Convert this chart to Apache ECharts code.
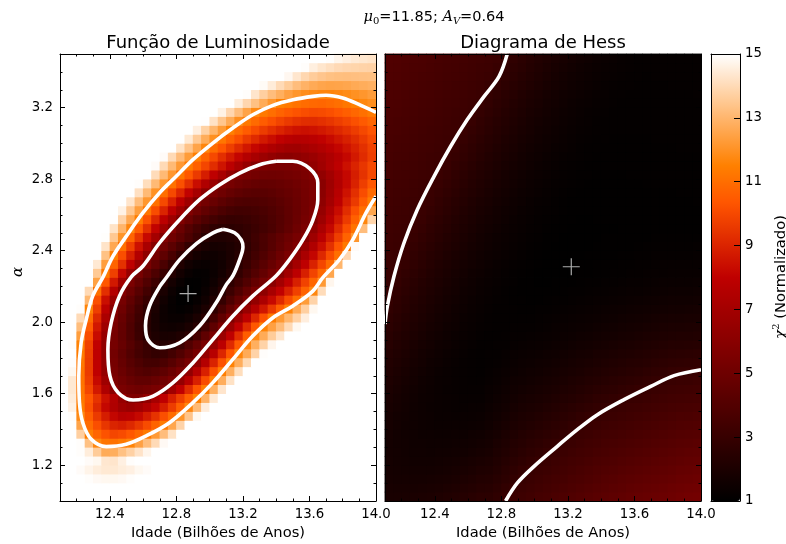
<!DOCTYPE html>
<html><head><meta charset="utf-8">
<script src="https://cdn.jsdelivr.net/npm/echarts@6/dist/echarts.min.js"></script>
<style>html,body{margin:0;padding:0;background:#fff}#c{width:786px;height:544px}</style>
</head><body><div id="c"></div>
<script>
// ---------- data ----------
// grid cell centres shared by both panels (age, alpha)
const gridX = [12.125,12.175,12.225,12.275,12.325,12.375,12.425,12.475,12.525,12.575,12.625,12.675,12.725,12.775,12.825,12.875,12.925,12.975,13.025,13.075,13.125,13.175,13.225,13.275,13.325,13.375,13.425,13.475,13.525,13.575,13.625,13.675,13.725,13.775,13.825,13.875,13.925,13.975];
const gridY = [1.025,1.075,1.125,1.175,1.225,1.275,1.325,1.375,1.425,1.475,1.525,1.575,1.625,1.675,1.725,1.775,1.825,1.875,1.925,1.975,2.025,2.075,2.125,2.175,2.225,2.275,2.325,2.375,2.425,2.475,2.525,2.575,2.625,2.675,2.725,2.775,2.825,2.875,2.925,2.975,3.025,3.075,3.125,3.175,3.225,3.275,3.325,3.375,3.425,3.475];

// Função de Luminosidade: chi2 (normalised) per cell, rows from alpha=1.025 (bottom) to 3.475 (top); 15 = saturated (white)
const lfGrid = [
[15,15,15,15,15,15,15,15,15,15,15,15,15,15,15,15,15,15,15,15,15,15,15,15,15,15,15,15,15,15,15,15,15,15,15,15,15,15],
[15,15,15,15,15,15,15,15,15,15,15,15,15,15,15,15,15,15,15,15,15,15,15,15,15,15,15,15,15,15,15,15,15,15,15,15,15,15],
[15,15,15,14.95,14.85,14.8,14.8,14.85,14.95,15,15,15,15,15,15,15,15,15,15,15,15,15,15,15,15,15,15,15,15,15,15,15,15,15,15,15,15,15],
[15,15,14.9,14.7,14.5,14.4,14.4,14.5,14.6,14.8,14.9,15,15,15,15,15,15,15,15,15,15,15,15,15,15,15,15,15,15,15,15,15,15,15,15,15,15,15],
[15,15,15,14.9,14.8,14.35,14.3,14.6,14.95,15,15,15,15,15,15,15,15,15,15,15,15,15,15,15,15,15,15,15,15,15,15,15,15,15,15,15,15,15],
[15,15,14.95,14.5,13.6,12.7,12.77,13.3,13.75,14.25,14.73,15,15,15,15,15,15,15,15,15,15,15,15,15,15,15,15,15,15,15,15,15,15,15,15,15,15,15],
[15,15,14.95,13.3,11.7,11.2,11.13,11.33,11.6,12.4,13.2,14.0,14.85,15,15,15,15,15,15,15,15,15,15,15,15,15,15,15,15,15,15,15,15,15,15,15,15,15],
[15,15,13.7,11.45,10.79,10.25,9.93,10.07,10.4,10.82,11.34,12.23,13.2,14.2,15,15,15,15,15,15,15,15,15,15,15,15,15,15,15,15,15,15,15,15,15,15,15,15],
[15,15,12.5,10.94,10.15,9.48,9.0,8.84,9.11,9.54,10.07,10.7,11.38,12.55,13.8,15,15,15,15,15,15,15,15,15,15,15,15,15,15,15,15,15,15,15,15,15,15,15],
[15,14.95,11.8,10.55,9.6,8.8,8.16,7.71,7.85,8.23,8.77,9.42,10.17,10.97,12.05,13.4,14.8,15,15,15,15,15,15,15,15,15,15,15,15,15,15,15,15,15,15,15,15,15],
[15,14.65,11.45,10.22,9.14,8.2,7.43,6.84,6.6,6.92,7.42,8.07,8.82,9.68,10.62,11.7,13.1,14.5,15,15,15,15,15,15,15,15,15,15,15,15,15,15,15,15,15,15,15,15],
[15,14.5,11.33,10.37,9.41,8.45,7.5,6.5,5.65,5.65,6.22,7.1,7.98,8.86,9.73,10.6,11.5,12.9,14.4,15,15,15,15,15,15,15,15,15,15,15,15,15,15,15,15,15,15,15],
[15,14.4,11.24,9.93,8.66,7.38,6.1,5.46,5.18,5.04,5.18,5.42,5.7,6.9,8.0,9.2,10.3,11.4,12.8,14.3,15,15,15,15,15,15,15,15,15,15,15,15,15,15,15,15,15,15],
[15,14.4,11.15,9.7,8.25,6.8,5.59,5.15,4.8,4.55,4.55,4.78,5.12,5.53,6.45,7.67,8.9,10.1,11.35,12.75,14.2,15,15,15,15,15,15,15,15,15,15,15,15,15,15,15,15,15],
[15,14.8,11.18,9.6,8.0,6.43,5.4,4.9,4.48,4.14,3.95,4.12,4.46,4.91,5.44,6.4,7.65,8.9,10.2,11.45,12.8,14.1,15,15,15,15,15,15,15,15,15,15,15,15,15,15,15,15],
[15,14.95,11.27,9.62,7.96,6.33,5.3,4.71,4.2,3.79,3.49,3.45,3.75,4.18,4.71,5.33,6.3,7.61,8.96,10.24,11.55,12.75,13.96,15,15,15,15,15,15,15,15,15,15,15,15,15,15,15],
[15,15,11.4,9.67,7.96,6.22,5.21,4.56,3.98,3.48,3.1,2.86,3.04,3.44,3.97,4.62,5.33,6.4,7.7,9.05,10.35,11.64,12.7,13.8,14.95,15,15,15,15,15,15,15,15,15,15,15,15,15],
[15,14.95,11.55,9.79,8.02,6.28,5.32,4.75,4.17,3.6,3.03,2.49,2.34,2.5,3.2,3.95,4.69,5.44,6.54,7.85,9.15,10.46,11.7,12.8,13.8,14.74,15,15,15,15,15,15,15,15,15,15,15,15],
[15,15,12.34,10.1,8.3,6.5,5.32,4.61,3.91,3.2,2.5,2.09,1.9,1.95,2.16,2.52,3.52,4.48,5.44,6.65,7.96,9.25,10.56,11.76,12.7,13.6,14.3,15,15,15,15,15,15,15,15,15,15,15],
[15,15,13.2,10.5,8.66,6.8,5.4,4.64,3.87,3.1,2.38,1.9,1.63,1.56,1.67,1.95,2.41,3.36,4.42,5.48,6.69,8.0,9.2,10.4,11.57,12.4,13.15,14.0,14.8,15,15,15,15,15,15,15,15,15],
[15,15,14.0,10.98,9.1,7.26,5.58,4.8,4.03,3.27,2.5,1.89,1.49,1.32,1.34,1.54,1.93,2.5,3.52,4.55,5.58,6.74,7.9,9.06,10.22,11.38,12.2,13.0,13.75,14.55,15,15,15,15,15,15,15,15],
[15,15,14.95,11.6,9.7,7.85,6.0,5.06,4.26,3.46,2.66,1.98,1.49,1.21,1.12,1.23,1.52,2.0,2.72,3.65,4.6,5.54,6.57,7.56,8.6,9.6,10.57,11.55,12.66,13.7,14.8,15,15,15,15,15,15,15],
[15,15,15,13.05,10.2,8.4,6.63,5.32,4.55,3.78,3.01,2.25,1.64,1.24,1.05,1.04,1.23,1.6,2.16,2.95,3.81,4.64,5.51,6.4,7.32,8.25,9.18,10.1,11.04,12.27,13.8,15,15,15,15,15,15,15],
[15,15,15,14.0,11.09,9.3,7.56,5.76,4.96,4.2,3.43,2.66,1.96,1.44,1.12,1.0,1.08,1.35,1.8,2.44,3.17,3.9,4.68,5.41,6.23,7.15,8.02,8.9,9.8,10.7,11.7,14.05,15,15,15,15,15,15],
[15,15,15,15,12.45,10.4,8.66,6.9,5.48,4.71,3.94,3.17,2.43,1.78,1.33,1.09,1.06,1.21,1.53,2.02,2.66,3.33,3.97,4.64,5.28,6.05,6.98,7.96,8.89,9.82,10.8,12.2,14.75,15,15,15,15,15],
[15,15,15,15,13.55,11.33,9.76,8.2,6.57,5.35,4.58,3.81,3.04,2.28,1.69,1.31,1.15,1.19,1.39,1.73,2.23,2.84,3.43,4.03,4.64,5.25,5.93,6.9,7.9,8.87,9.87,10.86,12.55,15,15,15,15,15],
[15,15,15,15,14.4,12.34,10.7,9.35,7.96,6.57,5.4,4.57,3.74,2.92,2.17,1.67,1.39,1.32,1.42,1.66,2.04,2.56,3.12,3.67,4.24,4.78,5.35,6.05,7.03,7.96,8.95,9.93,10.9,13.0,15,15,15,15],
[15,15,15,15,15,13.32,11.45,10.15,8.85,7.55,6.24,5.25,4.45,3.66,2.86,2.17,1.76,1.55,1.56,1.7,1.98,2.38,2.88,3.4,3.91,4.42,4.96,5.47,6.22,7.2,8.13,9.1,10.1,11.04,13.9,15,15,15],
[15,15,15,15,15,14.26,12.62,11.09,9.76,8.48,7.21,5.93,5.1,4.36,3.65,2.91,2.27,1.93,1.81,1.87,2.04,2.32,2.75,3.24,3.71,4.16,4.64,5.12,5.6,6.45,7.45,8.4,9.35,10.35,11.3,14.9,15,15],
[15,15,15,15,15,14.96,13.5,12.05,10.74,9.47,8.25,7.03,5.76,5.1,4.45,3.81,3.17,2.5,2.2,2.16,2.27,2.5,2.91,3.3,3.72,4.13,4.55,4.93,5.35,5.82,6.8,7.79,8.72,9.7,10.7,12.1,15,15],
[15,15,15,15,15,15,14.23,12.97,11.68,10.46,9.3,8.08,6.86,5.7,4.88,4.15,3.55,3.08,2.73,2.55,2.57,2.7,2.89,3.14,3.43,3.74,4.12,4.53,5.0,5.48,6.28,7.27,8.2,9.18,10.17,11.15,13.2,15],
[15,15,15,15,15,15,14.98,13.81,12.62,11.45,10.24,9.06,7.9,6.74,5.68,4.96,4.33,3.84,3.43,3.12,2.96,3.0,3.12,3.29,3.51,3.81,4.11,4.47,4.85,5.29,5.76,6.74,7.73,8.66,9.64,10.63,11.67,13.85],
[15,15,15,15,15,15,15,14.65,13.5,12.34,11.2,10.1,9.0,7.9,6.8,5.7,5.09,4.56,4.12,3.77,3.5,3.37,3.42,3.53,3.7,3.93,4.19,4.49,4.84,5.21,5.63,6.45,7.38,8.31,9.24,10.17,11.04,12.55],
[15,15,15,15,15,15,15,15,14.3,13.2,12.15,11.09,10.0,8.95,7.9,6.8,5.76,5.22,4.78,4.4,4.11,3.89,3.79,3.83,3.94,4.11,4.32,4.57,4.86,5.18,5.53,6.2,7.0,7.9,8.8,9.6,10.5,11.4],
[15,15,15,15,15,15,15,15,15,14.16,13.1,12.0,11.0,10.0,9.04,8.06,7.1,6.1,5.46,5.06,4.73,4.47,4.29,4.2,4.24,4.35,4.52,4.71,4.95,5.22,5.54,6.08,6.88,7.7,8.5,9.3,10.1,10.9],
[15,15,15,15,15,15,15,15,15,14.95,14.1,13.1,12.1,11.1,10.2,9.3,8.37,7.44,6.57,5.68,5.34,5.06,4.84,4.68,4.62,4.66,4.77,4.91,5.1,5.31,5.56,6.05,6.8,7.52,8.22,8.95,9.7,10.4],
[15,15,15,15,15,15,15,15,15,15,15,14.05,13.1,12.13,11.2,10.4,9.6,8.8,7.96,7.15,6.34,5.63,5.4,5.22,5.08,5.03,5.08,5.18,5.32,5.5,5.75,6.35,6.95,7.56,8.2,8.8,9.4,10.0],
[15,15,15,15,15,15,15,15,15,15,15,14.9,14.0,13.1,12.2,11.33,10.63,9.93,9.24,8.55,7.86,7.17,6.48,5.8,5.59,5.49,5.45,5.5,5.6,5.83,6.34,6.88,7.4,7.93,8.45,8.97,9.5,10.0],
[15,15,15,15,15,15,15,15,15,15,15,15,14.9,14.0,13.15,12.27,11.45,10.68,10.0,9.3,8.7,8.14,7.6,7.15,6.73,6.4,6.13,6.03,6.18,6.38,6.66,7.0,7.37,7.77,8.2,8.7,9.2,9.7],
[15,15,15,15,15,15,15,15,15,15,15,15,15,15,14.23,13.4,12.5,11.67,10.95,10.34,9.73,9.16,8.65,8.18,7.76,7.38,7.1,6.87,6.85,7.0,7.22,7.49,7.8,8.13,8.5,8.9,9.33,9.8],
[15,15,15,15,15,15,15,15,15,15,15,15,15,15,15,14.4,13.56,12.74,11.95,11.23,10.65,10.14,9.6,9.17,8.7,8.35,8.04,7.77,7.62,7.68,7.83,8.04,8.28,8.57,8.88,9.22,9.6,10.0],
[15,15,15,15,15,15,15,15,15,15,15,15,15,15,15,15,14.57,13.77,13.0,12.24,11.5,10.97,10.5,10.07,9.65,9.3,8.97,8.7,8.5,8.41,8.51,8.66,8.87,9.1,9.37,9.66,9.98,10.31],
[15,15,15,15,15,15,15,15,15,15,15,15,15,15,15,15,15,14.98,14.22,13.45,12.7,11.92,11.3,10.9,10.52,10.19,9.87,9.61,9.39,9.24,9.22,9.34,9.5,9.7,9.93,10.19,10.46,10.77],
[15,15,15,15,15,15,15,15,15,15,15,15,15,15,15,15,15,15,15,14.65,13.9,13.2,12.48,11.75,11.3,11.0,10.72,10.48,10.27,10.11,10.0,10.05,10.18,10.36,10.57,10.81,11.07,11.37],
[15,15,15,15,15,15,15,15,15,15,15,15,15,15,15,15,15,15,15,15,15,14.5,13.9,13.3,12.7,12.1,11.5,11.3,11.12,10.97,10.86,10.8,10.89,11.05,11.26,11.5,11.69,11.88],
[15,15,15,15,15,15,15,15,15,15,15,15,15,15,15,15,15,15,15,15,15,15,14.95,14.3,13.7,13.2,12.8,12.4,12.1,11.9,11.75,11.65,11.62,11.7,11.82,11.97,12.12,12.3],
[15,15,15,15,15,15,15,15,15,15,15,15,15,15,15,15,15,15,15,15,15,15,15,15,14.88,14.48,14.0,13.6,13.2,12.9,12.68,12.54,12.47,12.5,12.56,12.66,12.75,12.83],
[15,15,15,15,15,15,15,15,15,15,15,15,15,15,15,15,15,15,15,15,15,15,15,15,15,15,15,14.79,14.33,13.92,13.62,13.43,13.3,13.24,13.23,13.25,13.28,13.3],
[15,15,15,15,15,15,15,15,15,15,15,15,15,15,15,15,15,15,15,15,15,15,15,15,15,15,15,15,15,14.94,14.56,14.32,14.13,13.98,13.9,13.85,13.8,13.78],
[15,15,15,15,15,15,15,15,15,15,15,15,15,15,15,15,15,15,15,15,15,15,15,15,15,15,15,15,15,15,15,15,14.95,14.73,14.57,14.43,14.34,14.26]
];

// Diagrama de Hess: chi2 (normalised) per cell, rows from alpha=1.025 (bottom) to 3.475 (top)
const hessGrid = [
[1.92,1.91,1.91,1.93,1.97,2.02,2.08,2.16,2.25,2.35,2.45,2.55,2.58,2.71,2.92,3.10,3.24,3.35,3.47,3.57,3.68,3.79,3.91,4.02,4.12,4.23,4.33,4.42,4.51,4.60,4.68,4.74,4.83,4.91,4.99,5.10,5.15,5.21],
[1.86,1.84,1.83,1.84,1.86,1.90,1.95,2.02,2.10,2.19,2.29,2.39,2.43,2.56,2.77,2.99,3.12,3.24,3.35,3.45,3.55,3.66,3.78,3.88,3.99,4.09,4.19,4.28,4.37,4.45,4.53,4.60,4.68,4.76,4.85,4.95,5.00,5.05],
[1.81,1.78,1.76,1.76,1.77,1.80,1.84,1.89,1.96,2.04,2.13,2.23,2.28,2.42,2.62,2.83,3.01,3.12,3.22,3.33,3.43,3.53,3.65,3.75,3.86,3.96,4.05,4.14,4.23,4.31,4.39,4.45,4.54,4.62,4.70,4.79,4.84,4.89],
[1.77,1.73,1.71,1.69,1.69,1.71,1.74,1.78,1.84,1.91,1.99,2.08,2.14,2.29,2.48,2.68,2.85,3.00,3.10,3.20,3.31,3.41,3.52,3.62,3.72,3.83,3.92,4.00,4.09,4.17,4.24,4.31,4.39,4.47,4.55,4.64,4.69,4.74],
[1.75,1.70,1.66,1.63,1.62,1.63,1.65,1.68,1.72,1.79,1.86,1.94,2.01,2.16,2.34,2.54,2.69,2.83,2.97,3.08,3.18,3.28,3.39,3.49,3.59,3.69,3.78,3.86,3.95,4.03,4.10,4.17,4.25,4.32,4.40,4.48,4.53,4.58],
[1.74,1.68,1.63,1.59,1.57,1.56,1.57,1.59,1.62,1.67,1.74,1.81,1.89,2.04,2.21,2.40,2.54,2.67,2.80,2.94,3.06,3.15,3.26,3.36,3.46,3.56,3.64,3.72,3.81,3.88,3.96,4.02,4.10,4.18,4.25,4.33,4.38,4.42],
[1.74,1.67,1.61,1.56,1.53,1.51,1.50,1.51,1.54,1.57,1.63,1.69,1.78,1.93,2.09,2.27,2.40,2.52,2.64,2.77,2.90,3.03,3.13,3.23,3.32,3.42,3.50,3.58,3.67,3.74,3.81,3.88,3.96,4.03,4.10,4.18,4.22,4.27],
[1.76,1.67,1.60,1.54,1.49,1.46,1.45,1.45,1.46,1.48,1.53,1.58,1.69,1.82,1.98,2.14,2.27,2.38,2.49,2.60,2.73,2.86,3.00,3.10,3.19,3.29,3.37,3.44,3.52,3.60,3.67,3.73,3.81,3.88,3.95,4.02,4.07,4.11],
[1.79,1.69,1.60,1.53,1.48,1.43,1.41,1.39,1.40,1.41,1.44,1.49,1.60,1.72,1.87,2.02,2.14,2.24,2.34,2.45,2.57,2.69,2.82,2.95,3.06,3.15,3.23,3.30,3.38,3.46,3.52,3.59,3.66,3.73,3.80,3.87,3.91,3.95],
[1.82,1.71,1.62,1.53,1.47,1.42,1.38,1.35,1.34,1.35,1.37,1.40,1.51,1.63,1.76,1.91,2.02,2.11,2.20,2.30,2.41,2.53,2.65,2.77,2.90,3.02,3.09,3.16,3.24,3.31,3.38,3.45,3.52,3.59,3.66,3.72,3.75,3.80],
[1.88,1.75,1.64,1.55,1.48,1.41,1.36,1.33,1.30,1.30,1.31,1.33,1.44,1.54,1.67,1.81,1.90,1.98,2.07,2.16,2.27,2.37,2.48,2.60,2.71,2.84,2.93,3.03,3.10,3.17,3.24,3.30,3.37,3.44,3.51,3.56,3.60,3.64],
[1.94,1.80,1.69,1.58,1.49,1.42,1.36,1.31,1.28,1.26,1.26,1.27,1.37,1.46,1.58,1.71,1.79,1.87,1.94,2.03,2.13,2.23,2.33,2.43,2.54,2.66,2.74,2.84,2.94,3.03,3.09,3.16,3.23,3.29,3.36,3.41,3.44,3.48],
[2.01,1.87,1.74,1.62,1.52,1.44,1.36,1.30,1.26,1.23,1.22,1.22,1.31,1.39,1.50,1.61,1.69,1.76,1.83,1.91,2.00,2.09,2.18,2.28,2.38,2.49,2.56,2.65,2.75,2.84,2.93,3.01,3.08,3.14,3.21,3.26,3.29,3.33],
[2.08,1.94,1.80,1.68,1.56,1.46,1.38,1.31,1.26,1.22,1.19,1.18,1.26,1.33,1.42,1.53,1.60,1.66,1.72,1.79,1.87,1.96,2.04,2.13,2.23,2.32,2.39,2.48,2.57,2.65,2.73,2.82,2.91,3.00,3.06,3.10,3.13,3.17],
[2.16,2.01,1.87,1.74,1.62,1.51,1.41,1.33,1.27,1.22,1.18,1.16,1.23,1.28,1.35,1.45,1.51,1.57,1.62,1.69,1.76,1.84,1.91,1.99,2.08,2.17,2.23,2.31,2.39,2.47,2.54,2.63,2.71,2.79,2.88,2.93,2.97,3.01],
[2.24,2.08,1.94,1.80,1.68,1.56,1.46,1.37,1.29,1.23,1.18,1.14,1.20,1.23,1.29,1.38,1.43,1.48,1.53,1.59,1.65,1.72,1.79,1.87,1.94,2.03,2.08,2.15,2.23,2.30,2.36,2.44,2.52,2.60,2.67,2.72,2.76,2.80],
[2.32,2.16,2.01,1.87,1.74,1.62,1.51,1.41,1.32,1.25,1.19,1.14,1.18,1.20,1.24,1.31,1.36,1.40,1.44,1.50,1.55,1.62,1.68,1.75,1.82,1.90,1.94,2.01,2.08,2.14,2.20,2.28,2.35,2.41,2.48,2.52,2.55,2.59],
[2.41,2.24,2.08,1.94,1.80,1.68,1.56,1.46,1.36,1.28,1.21,1.15,1.16,1.17,1.20,1.26,1.29,1.33,1.36,1.41,1.46,1.52,1.57,1.64,1.70,1.77,1.81,1.87,1.93,1.99,2.05,2.12,2.18,2.24,2.31,2.33,2.36,2.40],
[2.50,2.32,2.16,2.01,1.87,1.74,1.62,1.51,1.41,1.32,1.24,1.18,1.16,1.16,1.17,1.21,1.23,1.26,1.29,1.33,1.38,1.43,1.48,1.53,1.59,1.66,1.69,1.74,1.80,1.85,1.90,1.97,2.02,2.08,2.14,2.16,2.18,2.21],
[2.59,2.41,2.24,2.08,1.94,1.80,1.68,1.56,1.46,1.36,1.28,1.21,1.17,1.15,1.15,1.18,1.19,1.20,1.23,1.27,1.31,1.35,1.39,1.44,1.49,1.55,1.58,1.63,1.68,1.72,1.77,1.83,1.88,1.93,1.98,1.99,2.02,2.05],
[2.68,2.50,2.32,2.16,2.01,1.87,1.74,1.62,1.51,1.41,1.32,1.24,1.19,1.15,1.14,1.15,1.15,1.16,1.17,1.21,1.24,1.28,1.31,1.36,1.40,1.45,1.48,1.52,1.57,1.61,1.64,1.70,1.75,1.79,1.84,1.85,1.86,1.89],
[2.78,2.59,2.41,2.24,2.08,1.94,1.80,1.68,1.56,1.46,1.36,1.28,1.21,1.16,1.13,1.13,1.12,1.12,1.13,1.15,1.18,1.22,1.24,1.28,1.32,1.37,1.39,1.42,1.46,1.50,1.53,1.58,1.62,1.66,1.71,1.71,1.72,1.75],
[2.88,2.68,2.50,2.32,2.16,2.01,1.87,1.74,1.62,1.51,1.41,1.32,1.24,1.18,1.14,1.12,1.10,1.09,1.09,1.11,1.13,1.16,1.18,1.22,1.25,1.29,1.30,1.33,1.37,1.40,1.43,1.48,1.51,1.55,1.58,1.58,1.60,1.61],
[2.98,2.78,2.59,2.41,2.24,2.08,1.94,1.80,1.68,1.56,1.46,1.36,1.28,1.21,1.15,1.12,1.09,1.07,1.06,1.07,1.09,1.11,1.13,1.16,1.19,1.22,1.23,1.26,1.29,1.32,1.34,1.38,1.41,1.44,1.47,1.47,1.48,1.50],
[3.02,2.88,2.68,2.50,2.32,2.16,2.01,1.87,1.74,1.62,1.51,1.41,1.32,1.24,1.18,1.13,1.09,1.06,1.04,1.04,1.06,1.07,1.09,1.11,1.13,1.16,1.17,1.19,1.22,1.24,1.26,1.30,1.32,1.35,1.38,1.37,1.38,1.39],
[3.06,2.98,2.78,2.59,2.41,2.24,2.08,1.94,1.80,1.68,1.56,1.46,1.36,1.28,1.21,1.15,1.10,1.06,1.04,1.03,1.03,1.04,1.05,1.07,1.09,1.11,1.12,1.13,1.16,1.17,1.19,1.22,1.25,1.27,1.29,1.28,1.29,1.30],
[3.11,3.04,2.90,2.70,2.52,2.34,2.18,2.03,1.89,1.76,1.64,1.53,1.43,1.34,1.26,1.20,1.14,1.10,1.06,1.04,1.04,1.04,1.05,1.06,1.08,1.10,1.10,1.12,1.14,1.15,1.17,1.20,1.22,1.24,1.26,1.25,1.26,1.27],
[3.14,3.08,3.00,2.80,2.61,2.43,2.27,2.11,1.96,1.83,1.70,1.59,1.48,1.39,1.31,1.24,1.17,1.12,1.08,1.05,1.04,1.03,1.04,1.04,1.06,1.07,1.08,1.09,1.10,1.12,1.13,1.15,1.17,1.18,1.20,1.19,1.20,1.21],
[3.18,3.12,3.06,2.91,2.71,2.53,2.36,2.19,2.04,1.90,1.77,1.65,1.54,1.44,1.35,1.28,1.21,1.15,1.11,1.07,1.05,1.04,1.03,1.04,1.05,1.06,1.06,1.07,1.08,1.09,1.10,1.13,1.14,1.15,1.16,1.15,1.16,1.17],
[3.22,3.16,3.09,3.02,2.81,2.63,2.45,2.28,2.12,1.97,1.84,1.71,1.60,1.49,1.40,1.32,1.25,1.19,1.13,1.09,1.06,1.05,1.04,1.04,1.05,1.05,1.06,1.06,1.07,1.07,1.08,1.09,1.10,1.11,1.12,1.11,1.12,1.12],
[3.26,3.19,3.13,3.07,2.92,2.72,2.54,2.37,2.21,2.05,1.91,1.78,1.66,1.55,1.45,1.37,1.29,1.22,1.17,1.12,1.09,1.06,1.05,1.05,1.05,1.05,1.05,1.05,1.06,1.06,1.06,1.07,1.08,1.08,1.09,1.09,1.09,1.09],
[3.29,3.23,3.17,3.11,3.03,2.83,2.64,2.46,2.29,2.13,1.99,1.85,1.73,1.61,1.51,1.41,1.33,1.26,1.20,1.15,1.11,1.08,1.06,1.05,1.05,1.06,1.06,1.06,1.06,1.06,1.07,1.07,1.07,1.08,1.08,1.08,1.08,1.09],
[3.33,3.27,3.21,3.14,3.08,2.93,2.74,2.55,2.38,2.22,2.07,1.92,1.79,1.67,1.56,1.47,1.38,1.30,1.23,1.18,1.13,1.10,1.07,1.06,1.06,1.06,1.06,1.07,1.07,1.07,1.07,1.07,1.08,1.08,1.08,1.08,1.09,1.09],
[3.37,3.31,3.24,3.18,3.12,3.04,2.84,2.65,2.47,2.30,2.14,2.00,1.86,1.74,1.62,1.52,1.43,1.34,1.27,1.21,1.16,1.12,1.09,1.07,1.07,1.07,1.07,1.07,1.08,1.08,1.08,1.08,1.08,1.09,1.09,1.09,1.09,1.10],
[3.41,3.34,3.28,3.22,3.16,3.09,2.94,2.75,2.56,2.39,2.23,2.08,1.94,1.81,1.68,1.58,1.48,1.39,1.31,1.25,1.19,1.14,1.11,1.09,1.07,1.08,1.08,1.08,1.08,1.08,1.09,1.09,1.09,1.09,1.09,1.10,1.10,1.10],
[3.44,3.38,3.32,3.26,3.19,3.13,3.05,2.85,2.66,2.48,2.32,2.16,2.01,1.87,1.75,1.64,1.53,1.44,1.36,1.28,1.22,1.17,1.13,1.10,1.09,1.08,1.09,1.09,1.09,1.09,1.09,1.10,1.10,1.10,1.10,1.10,1.11,1.11],
[3.48,3.42,3.36,3.29,3.23,3.17,3.10,2.96,2.76,2.58,2.40,2.24,2.09,1.95,1.82,1.70,1.59,1.49,1.40,1.32,1.26,1.20,1.16,1.12,1.10,1.09,1.09,1.09,1.09,1.10,1.10,1.10,1.10,1.10,1.11,1.11,1.11,1.11],
[3.52,3.46,3.39,3.33,3.27,3.20,3.14,3.06,2.86,2.67,2.49,2.33,2.17,2.02,1.89,1.76,1.65,1.54,1.45,1.37,1.30,1.23,1.18,1.14,1.12,1.10,1.10,1.10,1.10,1.10,1.10,1.11,1.11,1.11,1.11,1.11,1.12,1.12],
[3.56,3.49,3.43,3.37,3.31,3.24,3.18,3.12,2.97,2.77,2.59,2.42,2.25,2.10,1.96,1.83,1.71,1.60,1.50,1.41,1.34,1.27,1.21,1.17,1.14,1.12,1.10,1.10,1.11,1.11,1.11,1.11,1.11,1.12,1.12,1.12,1.12,1.12],
[3.59,3.53,3.47,3.41,3.34,3.28,3.22,3.15,3.08,2.87,2.69,2.51,2.34,2.18,2.03,1.90,1.77,1.66,1.55,1.46,1.38,1.31,1.25,1.19,1.16,1.13,1.11,1.11,1.11,1.11,1.12,1.12,1.12,1.12,1.12,1.13,1.13,1.13],
[3.63,3.57,3.51,3.44,3.38,3.32,3.25,3.19,3.13,2.98,2.78,2.60,2.43,2.27,2.11,1.97,1.84,1.72,1.61,1.51,1.43,1.35,1.28,1.23,1.18,1.15,1.13,1.12,1.12,1.12,1.12,1.12,1.13,1.13,1.13,1.13,1.13,1.13],
[3.67,3.61,3.54,3.48,3.42,3.35,3.29,3.23,3.17,3.09,2.89,2.70,2.52,2.35,2.19,2.05,1.91,1.79,1.67,1.57,1.47,1.39,1.32,1.26,1.21,1.17,1.15,1.13,1.13,1.13,1.13,1.13,1.14,1.14,1.14,1.14,1.14,1.14],
[3.71,3.64,3.58,3.52,3.46,3.39,3.33,3.27,3.20,3.14,2.99,2.80,2.61,2.44,2.28,2.13,1.98,1.85,1.73,1.62,1.53,1.44,1.36,1.29,1.24,1.20,1.16,1.14,1.13,1.13,1.14,1.14,1.14,1.14,1.14,1.15,1.15,1.15],
[3.74,3.68,3.62,3.56,3.49,3.43,3.37,3.30,3.24,3.18,3.10,2.90,2.71,2.53,2.36,2.20,2.06,1.92,1.80,1.68,1.58,1.49,1.40,1.33,1.27,1.22,1.18,1.15,1.14,1.14,1.14,1.15,1.15,1.15,1.15,1.15,1.15,1.16],
[3.78,3.72,3.66,3.59,3.53,3.47,3.40,3.34,3.28,3.22,3.15,3.00,2.81,2.62,2.45,2.29,2.14,2.00,1.87,1.74,1.64,1.54,1.45,1.37,1.31,1.25,1.21,1.17,1.15,1.14,1.14,1.15,1.15,1.15,1.15,1.16,1.16,1.16],
[3.82,3.76,3.69,3.63,3.57,3.50,3.44,3.38,3.32,3.25,3.19,3.11,2.91,2.72,2.54,2.38,2.22,2.07,1.93,1.81,1.70,1.59,1.50,1.42,1.35,1.29,1.24,1.20,1.17,1.15,1.15,1.15,1.16,1.16,1.16,1.16,1.16,1.17],
[3.86,3.79,3.73,3.67,3.60,3.54,3.48,3.42,3.35,3.29,3.23,3.16,3.02,2.82,2.64,2.46,2.30,2.15,2.01,1.88,1.76,1.65,1.55,1.46,1.39,1.32,1.27,1.22,1.19,1.17,1.16,1.16,1.16,1.16,1.17,1.17,1.17,1.17],
[3.89,3.83,3.77,3.70,3.64,3.58,3.52,3.45,3.39,3.33,3.26,3.20,3.12,2.92,2.73,2.55,2.39,2.23,2.08,1.95,1.82,1.71,1.60,1.51,1.43,1.36,1.30,1.25,1.21,1.18,1.17,1.16,1.17,1.17,1.17,1.17,1.18,1.18],
[3.93,3.87,3.81,3.74,3.68,3.62,3.55,3.49,3.43,3.37,3.30,3.24,3.18,3.03,2.83,2.65,2.48,2.31,2.16,2.02,1.89,1.77,1.66,1.56,1.47,1.40,1.34,1.28,1.24,1.21,1.18,1.17,1.17,1.17,1.18,1.18,1.18,1.18],
[3.97,3.91,3.84,3.78,3.72,3.65,3.59,3.53,3.47,3.40,3.34,3.28,3.21,3.14,2.93,2.75,2.57,2.40,2.24,2.09,1.96,1.83,1.72,1.62,1.53,1.45,1.38,1.32,1.27,1.23,1.20,1.18,1.18,1.18,1.18,1.19,1.19,1.19]
];

// contour lines [age, alpha]
const lfInner = [[13.08,2.52],[13.15,2.50],[13.19,2.46],[13.20,2.42],[13.18,2.35],[13.14,2.26],[13.10,2.21],[13.04,2.11],[12.94,1.98],[12.82,1.885],[12.70,1.857],[12.63,1.90],[12.614,1.98],[12.638,2.09],[12.70,2.20],[12.74,2.25],[12.82,2.35],[12.92,2.44],[13.02,2.50],[13.08,2.52]];
const lfMiddle = [[13.40,2.90],[13.50,2.90],[13.60,2.86],[13.65,2.78],[13.65,2.685],[13.62,2.57],[13.56,2.46],[13.48,2.35],[13.40,2.26],[13.26,2.147],[13.14,2.035],[13.02,1.904],[12.90,1.773],[12.78,1.662],[12.66,1.587],[12.54,1.565],[12.45,1.606],[12.40,1.70],[12.388,1.848],[12.408,1.997],[12.458,2.147],[12.53,2.255],[12.598,2.313],[12.698,2.443],[12.819,2.573],[12.939,2.685],[13.06,2.769],[13.18,2.834],[13.30,2.881],[13.40,2.90]];
const lfOuter = [[14.0,3.174],[13.90,3.217],[13.80,3.254],[13.70,3.269],[13.62,3.263],[13.50,3.244],[13.38,3.213],[13.259,3.16],[13.139,3.086],[13.019,3.002],[12.899,2.909],[12.799,2.816],[12.698,2.723],[12.598,2.611],[12.498,2.48],[12.418,2.368],[12.36,2.255],[12.297,2.147],[12.258,2.016],[12.227,1.885],[12.213,1.699],[12.217,1.55],[12.237,1.438],[12.288,1.345],[12.378,1.304],[12.498,1.317],[12.618,1.364],[12.758,1.438],[12.899,1.55],[13.019,1.662],[13.139,1.792],[13.259,1.923],[13.38,2.025],[13.5,2.091],[13.62,2.174],[13.68,2.249],[13.78,2.35],[13.86,2.461],[13.94,2.611],[14.0,2.704]];
const hessLeft = [[12.835,3.50],[12.786,3.375],[12.696,3.263],[12.595,3.133],[12.495,2.984],[12.395,2.816],[12.294,2.629],[12.214,2.443],[12.154,2.257],[12.114,2.089],[12.10,1.99]];
const hessBottom = [[12.825,1.0],[12.896,1.101],[12.996,1.194],[13.136,1.306],[13.256,1.399],[13.377,1.483],[13.537,1.567],[13.698,1.641],[13.838,1.701],[14.0,1.734]];

const lfBest = [12.87, 2.16];
const hessBest = [13.22, 2.31];

// ticks
const xMajor = [12.4,12.8,13.2,13.6,14.0];
const xMinor = [12.1,12.2,12.3,12.4,12.5,12.6,12.7,12.8,12.9,13.0,13.1,13.2,13.3,13.4,13.5,13.6,13.7,13.8,13.9,14.0];
const yMajor = [1.2,1.6,2.0,2.4,2.8,3.2];
const yMinor = [1.0,1.1,1.2,1.3,1.4,1.5,1.6,1.7,1.8,1.9,2.0,2.1,2.2,2.3,2.4,2.5,2.6,2.7,2.8,2.9,3.0,3.1,3.2,3.3,3.4,3.5];
const cbTicks = [1,3,5,7,9,11,13,15];

// ---------- chart ----------
const F = 'DejaVu Sans';
const gistHeat = ['#000000','#200000','#400000','#600000','#800000','#9f0000','#bf0000','#df2a00','#ff5500','#ff8000','#ffaa55','#ffd4aa','#ffffff'];

function heatData(g){const d=[];g.forEach((row,j)=>row.forEach((v,i)=>d.push([i,j,v])));return d;}

function valAxis(dim,g,pos,vals,len,lab,min,max,line){
  return {type:'value', gridIndex:g, position:pos, min:min, max:max, z:10,
    axisLine:{show:line, onZero:false, lineStyle:{color:'#000',width:1}},
    axisTick:{show:true, inside:true, length:len, customValues:vals, lineStyle:{color:'#000',width:1}},
    axisLabel:{show:lab, customValues:vals, margin:7, color:'#000', fontFamily:F, fontSize:13.3,
      formatter:(v)=>dim==='c'?String(Math.round(v)):v.toFixed(1)},
    splitLine:{show:false}, minorTick:{show:false}, minorSplitLine:{show:false}};
}

const xAxes=[], yAxes=[];
function addPanel(g, yLab){
  const xi = xAxes.length, yi = yAxes.length;
  xAxes.push({type:'category', gridIndex:g, data:gridX.map(String), show:false, boundaryGap:true});
  xAxes.push(valAxis('x',g,'bottom',xMajor,5,true,12.1,14.0,true));
  xAxes.push(valAxis('x',g,'bottom',xMinor,2.5,false,12.1,14.0,false));
  xAxes.push(valAxis('x',g,'top',xMajor,5,false,12.1,14.0,true));
  xAxes.push(valAxis('x',g,'top',xMinor,2.5,false,12.1,14.0,false));
  yAxes.push({type:'category', gridIndex:g, data:gridY.map(String), show:false, boundaryGap:true});
  yAxes.push(valAxis('y',g,'left',yMajor,5,yLab,1.0,3.5,true));
  yAxes.push(valAxis('y',g,'left',yMinor,2.5,false,1.0,3.5,false));
  yAxes.push(valAxis('y',g,'right',yMajor,5,false,1.0,3.5,true));
  yAxes.push(valAxis('y',g,'right',yMinor,2.5,false,1.0,3.5,false));
  return {cx:xi, cy:yi, vx:xi+1, vy:yi+1};
}
const P1 = addPanel(0, true);
const P2 = addPanel(1, false);
// colorbar frame + ticks
xAxes.push({type:'value', gridIndex:2, position:'top', min:0, max:1, z:10, axisLine:{show:true,onZero:false,lineStyle:{color:'#000'}}, axisTick:{show:false}, axisLabel:{show:false}, splitLine:{show:false}});
xAxes.push({type:'value', gridIndex:2, position:'bottom', min:0, max:1, z:10, axisLine:{show:true,onZero:false,lineStyle:{color:'#000'}}, axisTick:{show:false}, axisLabel:{show:false}, splitLine:{show:false}});
yAxes.push({type:'value', gridIndex:2, position:'left', min:1, max:15, z:10, axisLine:{show:true,onZero:false,lineStyle:{color:'#000'}}, axisTick:{show:false}, axisLabel:{show:false}, splitLine:{show:false}});
const cbAxis = valAxis('c',2,'right',cbTicks,6,true,1,15,true);
cbAxis.axisLabel.margin = 5;
yAxes.push(cbAxis);

const plusPath = 'path://M-8,-0.55H8V0.55H-8Z M-0.55,-8H0.55V8H-0.55Z';
function contour(p, d){return {type:'line', xAxisIndex:p.vx, yAxisIndex:p.vy, data:d, showSymbol:false, smooth:0.35, silent:true, z:4, clip:true, lineStyle:{color:'#ffffff', width:3.6}};}
// two stacked copies of each heatmap layer hide anti-aliasing seams between cells
function heat(p, g, z){return {type:'heatmap', xAxisIndex:p.cx, yAxisIndex:p.cy, data:heatData(g), progressive:0, silent:true, z:z, emphasis:{disabled:true}};}

const option = {
  animation:false,
  backgroundColor:'#ffffff',
  grid:[
    {left:60, top:54, width:316, height:447, show:false},
    {left:385, top:54, width:316, height:447, show:false},
    {left:711, top:54, width:29, height:447, show:false}
  ],
  xAxis:xAxes, yAxis:yAxes,
  visualMap:{type:'continuous', min:1, max:15, seriesIndex:[0,1,2,3], dimension:2, orient:'vertical',
    left:711, top:54, itemWidth:29, itemHeight:447, padding:0, calculable:false, hoverLink:false,
    inRange:{color:gistHeat}, z:1},
  series:[
    heat(P1, lfGrid, 1), heat(P1, lfGrid, 2),
    heat(P2, hessGrid, 1), heat(P2, hessGrid, 2),
    contour(P1, lfInner), contour(P1, lfMiddle), contour(P1, lfOuter),
    contour(P2, hessLeft), contour(P2, hessBottom),
    {type:'scatter', xAxisIndex:P1.vx, yAxisIndex:P1.vy, data:[lfBest], symbol:plusPath, symbolSize:17, silent:true, z:6, itemStyle:{color:'#d9d9d9'}},
    {type:'scatter', xAxisIndex:P2.vx, yAxisIndex:P2.vy, data:[hessBest], symbol:plusPath, symbolSize:17, silent:true, z:6, itemStyle:{color:'#d9d9d9'}}
  ],
  graphic:[
    {type:'text', x:434, y:17, style:{text:'{mi|μ}{sb|0}{rm|=11.85; }{mi|A}{si|V}{rm|=0.64}', align:'center', verticalAlign:'middle',
      rich:{mi:{fontFamily:'DejaVu Serif', fontStyle:'italic', fontSize:14.5, fill:'#000'},
            sb:{fontFamily:'DejaVu Serif', fontSize:10, padding:[8,0,0,0], fill:'#000'},
            si:{fontFamily:'DejaVu Serif', fontStyle:'italic', fontSize:10, padding:[8,0,0,0], fill:'#000'},
            rm:{fontFamily:F, fontSize:14.5, fill:'#000'}}}},
    {type:'text', x:218, y:43, style:{text:'Função de Luminosidade', fontFamily:F, fontSize:18, fill:'#000', align:'center', verticalAlign:'middle'}},
    {type:'text', x:543, y:43, style:{text:'Diagrama de Hess', fontFamily:F, fontSize:18, fill:'#000', align:'center', verticalAlign:'middle'}},
    {type:'text', x:218, y:533, style:{text:'Idade (Bilhões de Anos)', fontFamily:F, fontSize:14.7, fill:'#000', align:'center', verticalAlign:'middle'}},
    {type:'text', x:543, y:533, style:{text:'Idade (Bilhões de Anos)', fontFamily:F, fontSize:14.7, fill:'#000', align:'center', verticalAlign:'middle'}},
    {type:'text', x:18, y:272, rotation:Math.PI/2, style:{text:'α', fontFamily:'DejaVu Serif', fontStyle:'italic', fontSize:15, fill:'#000', align:'center', verticalAlign:'middle'}},
    {type:'text', x:781, y:277, rotation:Math.PI/2, style:{text:'{mi|χ}{sp|2}{rm| (Normalizado)}', align:'center', verticalAlign:'middle',
      rich:{mi:{fontFamily:'DejaVu Serif', fontStyle:'italic', fontSize:15, fill:'#000'},
            sp:{fontFamily:'DejaVu Serif', fontSize:10, padding:[0,0,9,0], fill:'#000'},
            rm:{fontFamily:F, fontSize:14.7, fill:'#000'}}}}
  ]
};
const chart = echarts.init(document.getElementById('c'), null, {renderer:'canvas', width:786, height:544});
chart.setOption(option);
</script>
</body></html>
